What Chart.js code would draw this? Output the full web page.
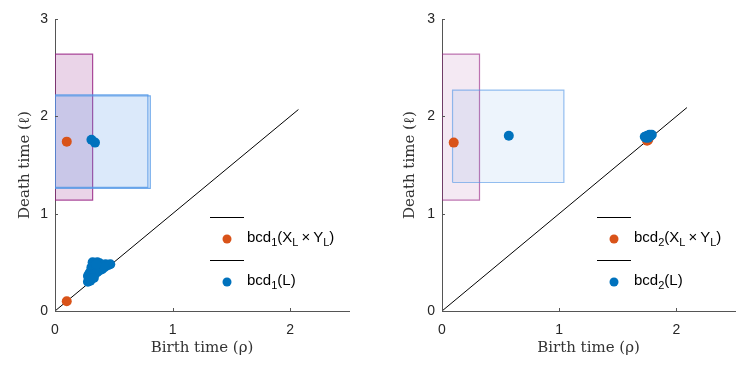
<!DOCTYPE html>
<html lang="en">
<head>
  <meta charset="UTF-8" />
  <title>Persistence diagrams</title>
  <script src="https://cdn.jsdelivr.net/npm/chart.js"></script>
  <style>
    body { margin: 0; background: #fff; }
    #wrap { position: relative; width: 747px; height: 373px; }
    canvas { position: absolute; top: 0; }
    #c1 { left: 0; }
    #c2 { left: 380px; }
  </style>
</head>
<body>
  <div id="wrap">
    <canvas id="c1" width="373" height="373"></canvas>
    <canvas id="c2" width="367" height="373"></canvas>
  </div>

  <script>
    // axis ticks
    const xTicks = [0, 1, 2];
    const yTicks = [0, 1, 2, 3];

    // left panel (degree 1)
    const orange1X = [0.10, 0.10];
    const orange1Y = [1.74, 0.10];
    const blue1X = [0.31, 0.34, 0.28, 0.29, 0.30, 0.28, 0.29, 0.31, 0.30, 0.32, 0.31, 0.33, 0.32, 0.34, 0.36,
                    0.38, 0.35, 0.37, 0.39, 0.41, 0.43, 0.45, 0.47, 0.40, 0.36, 0.34, 0.33, 0.38, 0.42, 0.35];
    const blue1Y = [1.76, 1.73, 0.30, 0.33, 0.31, 0.36, 0.38, 0.35, 0.40, 0.42, 0.45, 0.47, 0.50, 0.49, 0.50,
                    0.49, 0.45, 0.44, 0.46, 0.47, 0.48, 0.47, 0.48, 0.43, 0.40, 0.38, 0.34, 0.42, 0.45, 0.48];
    const diag1 = [0, 2.07];
    // boxes: [x0, x1, y0, y1]
    const purpleBox1 = [0, 0.32, 1.14, 2.64];
    const blueBox1a = [0, 0.79, 1.27, 2.22];
    const blueBox1b = [0, 0.81, 1.26, 2.21];

    // right panel (degree 2)
    const orange2X = [0.10, 1.75, 1.76];
    const orange2Y = [1.73, 1.75, 1.76];
    const blue2X = [0.57, 1.73, 1.75, 1.77, 1.78, 1.79, 1.76, 1.74];
    const blue2Y = [1.80, 1.79, 1.80, 1.81, 1.80, 1.81, 1.78, 1.78];
    const diag2 = [0, 2.09];
    const purpleBox2 = [0, 0.32, 1.14, 2.64];
    const blueBox2 = [0.09, 1.04, 1.32, 2.27];

    const ORANGE = "#D95319";
    const BLUE = "#0072BD";
    const SANS = "'Liberation Sans', Arial, sans-serif";
    const SERIF = "'DejaVu Serif', 'Liberation Serif', serif";

    function pts(xs, ys) {
      return xs.map((x, i) => ({ x: x, y: ys[i] }));
    }

    function boxData(b) {
      return [
        { x: b[0], y: b[2] }, { x: b[1], y: b[2] }, { x: b[1], y: b[3] },
        { x: b[0], y: b[3] }, { x: b[0], y: b[2] }
      ];
    }

    function boxSet(b, edge, fillCol) {
      return {
        type: "line",
        data: boxData(b),
        showLine: true,
        borderColor: edge,
        backgroundColor: fillCol,
        borderWidth: 1.2,
        pointRadius: 0,
        tension: 0,
        fill: "shape",
        order: 5
      };
    }

    // small inward ticks, MATLAB style
    const tickMarks = {
      id: "tickMarks",
      afterDraw(chart) {
        const c = chart.ctx, xs = chart.scales.x, ys = chart.scales.y;
        const a = chart.chartArea;
        c.save();
        c.strokeStyle = "#555";
        c.lineWidth = 1;
        c.beginPath();
        xTicks.forEach(v => {
          const px = Math.round(xs.getPixelForValue(v)) + 0.5;
          c.moveTo(px, a.bottom); c.lineTo(px, a.bottom - 3);
        });
        yTicks.forEach(v => {
          const py = Math.round(ys.getPixelForValue(v)) + 0.5;
          c.moveTo(a.left, py); c.lineTo(a.left + 3, py);
        });
        c.stroke();
        c.restore();
      }
    };

    // draw text with subscripts: parts = [[text, isSub], ...]
    function subText(c, parts, x, y) {
      parts.forEach(p => {
        if (p[1]) {
          c.font = "11px " + SANS;
          c.fillText(p[0], x, y + 5);
        } else {
          c.font = "15px " + SANS;
          c.fillText(p[0], x, y);
        }
        x += c.measureText(p[0]).width;
      });
    }

    function legendPlugin(k) {
      return {
        id: "fakeLegend",
        afterDraw(chart) {
          const c = chart.ctx, a = chart.chartArea;
          const L = a.left, T = a.top;
          c.save();
          c.strokeStyle = "#000";
          c.lineWidth = 1;
          c.beginPath();
          c.moveTo(L + 155, T + 198.5); c.lineTo(L + 189, T + 198.5);
          c.moveTo(L + 155, T + 241.5); c.lineTo(L + 189, T + 241.5);
          c.stroke();
          c.fillStyle = ORANGE;
          c.beginPath(); c.arc(L + 172, T + 220, 4.5, 0, Math.PI * 2); c.fill();
          c.fillStyle = BLUE;
          c.beginPath(); c.arc(L + 172, T + 263, 4.5, 0, Math.PI * 2); c.fill();
          c.fillStyle = "#000";
          c.textBaseline = "middle";
          c.textAlign = "left";
          subText(c, [["bcd", false], [k, true], ["(X", false], ["L", true], ["\u2009\u00D7\u2009Y", false], ["L", true], [")", false]], L + 192, T + 219);
          subText(c, [["bcd", false], [k, true], ["(L)", false]], L + 192, T + 262);
          c.restore();
        }
      };
    }

    function makeChart(id, datasets, k, yWidth, padRight, yTitlePad) {
      return new Chart(document.getElementById(id), {
        type: "scatter",
        data: { datasets: datasets },
        options: {
          responsive: false,
          animation: false,
          layout: { padding: { left: 0, right: padRight, top: 19, bottom: 0 } },
          plugins: { legend: { display: false }, tooltip: { enabled: false } },
          scales: {
            x: {
              type: "linear",
              min: 0, max: 2.5,
              afterBuildTicks: s => { s.ticks = xTicks.map(v => ({ value: v })); },
              afterFit: s => { s.height = 62; },
              grid: { display: false, drawTicks: false },
              border: { display: true, color: "#555", width: 1 },
              ticks: { color: "#262626", padding: 11, font: { size: 14, family: SANS } },
              title: {
                display: true, text: "Birth time (\u03C1)", color: "#333",
                padding: { top: 0, bottom: 16 },
                font: { size: 15, family: SERIF }
              }
            },
            y: {
              type: "linear",
              min: 0, max: 3,
              afterBuildTicks: s => { s.ticks = yTicks.map(v => ({ value: v })); },
              afterFit: s => { s.width = yWidth; },
              grid: { display: false, drawTicks: false },
              border: { display: true, color: "#555", width: 1 },
              ticks: { color: "#262626", padding: 7, font: { size: 14, family: SANS } },
              title: {
                display: true, text: "Death time (\u2113)", color: "#333",
                padding: { top: yTitlePad, bottom: 0 },
                font: { size: 15, family: SERIF }
              }
            }
          }
        },
        plugins: [tickMarks, legendPlugin(k)]
      });
    }

    function scatterSet(xs, ys, col) {
      return {
        data: pts(xs, ys),
        backgroundColor: col,
        borderWidth: 0,
        pointRadius: 5,
        pointHoverRadius: 5,
        order: 1
      };
    }

    function diagSet(d) {
      return {
        type: "line",
        data: [{ x: d[0], y: d[0] }, { x: d[1], y: d[1] }],
        showLine: true,
        borderColor: "#000",
        borderWidth: 1,
        pointRadius: 0,
        fill: false,
        order: 3
      };
    }

    makeChart("c1", [
      scatterSet(blue1X, blue1Y, BLUE),
      scatterSet(orange1X, orange1Y, ORANGE),
      diagSet(diag1),
      boxSet(blueBox1b, "rgba(80,150,230,0.8)", "rgba(80,150,230,0.12)"),
      boxSet(blueBox1a, "rgba(80,150,230,0.8)", "rgba(80,150,230,0.1)"),
      boxSet(purpleBox1, "rgba(150,30,130,0.8)", "rgba(150,40,140,0.2)")
    ], "1", 55, 24, 16);

    makeChart("c2", [
      scatterSet(blue2X, blue2Y, BLUE),
      scatterSet(orange2X, orange2Y, ORANGE),
      diagSet(diag2),
      boxSet(blueBox2, "rgba(80,150,230,0.6)", "rgba(80,150,230,0.1)"),
      boxSet(purpleBox2, "rgba(150,30,130,0.6)", "rgba(150,40,140,0.1)")
    ], "2", 62, 12, 21);
  </script>
</body>
</html>
